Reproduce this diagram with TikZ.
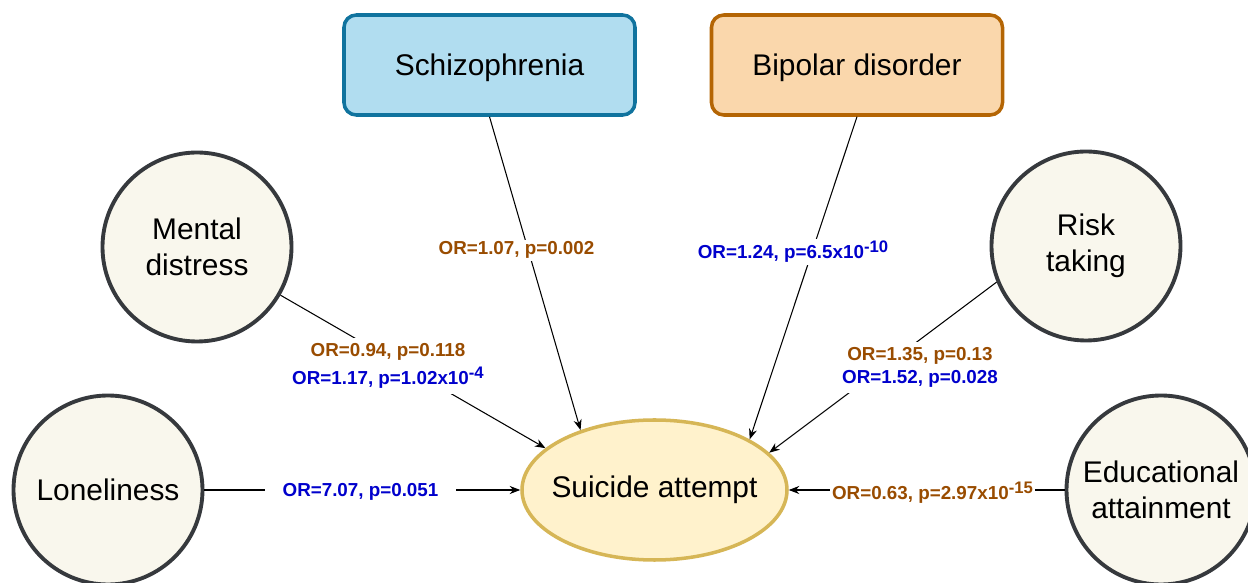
\documentclass[tikz,border=0pt]{standalone}
\usepackage{fontspec}
\setmainfont{Liberation Sans}
\usetikzlibrary{arrows.meta,shapes.geometric,positioning}

\definecolor{szfill}{HTML}{B1DDF0}
\definecolor{szline}{HTML}{10739E}
\definecolor{bdfill}{HTML}{FAD7AC}
\definecolor{bdline}{HTML}{B46504}
\definecolor{traitfill}{HTML}{F9F7ED}
\definecolor{traitline}{HTML}{36393D}
\definecolor{safill}{HTML}{FFF2CC}
\definecolor{saline}{HTML}{D6B656}
\definecolor{orbrown}{HTML}{994C00}
\definecolor{orblue}{HTML}{0000CC}

\newcommand{\expo}[1]{\raisebox{3.6pt}{\fontsize{9.5}{11}\selectfont #1}}

\begin{document}
\begin{tikzpicture}
        \useasboundingbox (0, 0) rectangle (24.96, 11.66);

        % Setup the styles for the nodes
        \tikzset{trait style/.style={circle,
                                     draw=traitline,
                                     line width=2.2pt,
                                     fill=traitfill,
                                     minimum size=3.78cm,
                                     align=center,
                                     font=\fontsize{17}{20.4}\selectfont},
                 disorder style/.style={rectangle,
                                        rounded corners=7pt,
                                        line width=2pt,
                                        minimum width=5.82cm,
                                        minimum height=2cm,
                                        text height=15pt,
                                        font=\fontsize{17}{20.4}\selectfont},
                 or style/.style={fill=white,
                                  inner sep=1pt,
                                  anchor=base,
                                  align=center,
                                  font=\bfseries\fontsize{10.7}{13}\selectfont}}

        % Draw the nodes
        \node[disorder style, draw=szline, fill=szfill] at (9.79, 10.36)   (schizo)  {Schizophrenia};
        \node[disorder style, draw=bdline, fill=bdfill] at (17.14, 10.36)  (bipolar) {Bipolar disorder};
        \node[trait style] at (3.94, 6.72)    (mental)  {Mental\\distress};
        \node[trait style] at (21.72, 6.74)   (risk)    {Risk\\taking};
        \node[trait style] at (2.16, 1.86)    (lonely)  {Loneliness};
        \node[trait style] at (23.22, 1.86)   (edu)     {Educational\\attainment};
        \node[ellipse, draw=saline, line width=2pt, fill=safill,
              inner xsep=-7pt, inner ysep=0pt,
              minimum width=5.3cm, minimum height=2.8cm,
              font=\fontsize{17}{20.4}\selectfont] at (13.09, 1.86) (suicide) {Suicide attempt};

        % Connect the nodes with arrows
        \draw[line width=0.6pt,
              >={Stealth[length=6pt,width=4.6pt]},
              draw=black]
            (schizo.south) edge[->] (suicide.141)
            (bipolar.south) edge[->] (suicide.28)
            (mental) edge[->] (suicide.159)
            (risk.202) edge[->] (suicide.18)
            (lonely) edge[->] (suicide)
            (edu) edge[->] (suicide);

        % Odds ratios on the arrows
        \node[or style, text=orbrown] at (10.33, 6.56) (orschizo) {OR=1.07, p=0.002};
        \node[or style, text=orblue] at (15.86, 6.48) (orbipolar) {OR=1.24, p=6.5x10\expo{-10}};
        \node[or style, inner ysep=3pt, font=\bfseries\fontsize{10.7}{16.4}\selectfont] at (7.76, 3.96) (ormental)
            {\textcolor{orbrown}{OR=0.94, p=0.118}\\\textcolor{orblue}{OR=1.17, p=1.02x10\expo{-4}}};
        \node[or style, inner ysep=3pt, font=\bfseries\fontsize{10.7}{13.6}\selectfont] at (18.4, 3.98) (orrisk)
            {\textcolor{orbrown}{OR=1.35, p=0.13}\\\textcolor{orblue}{OR=1.52, p=0.028}};
        \node[or style, text=orblue, inner xsep=10pt] at (7.21, 1.72) (orlonely) {OR=7.07, p=0.051};
        \node[or style, text=orbrown] at (18.65, 1.66) (oredu) {OR=0.63, p=2.97x10\expo{-15}};
\end{tikzpicture}
\end{document}
